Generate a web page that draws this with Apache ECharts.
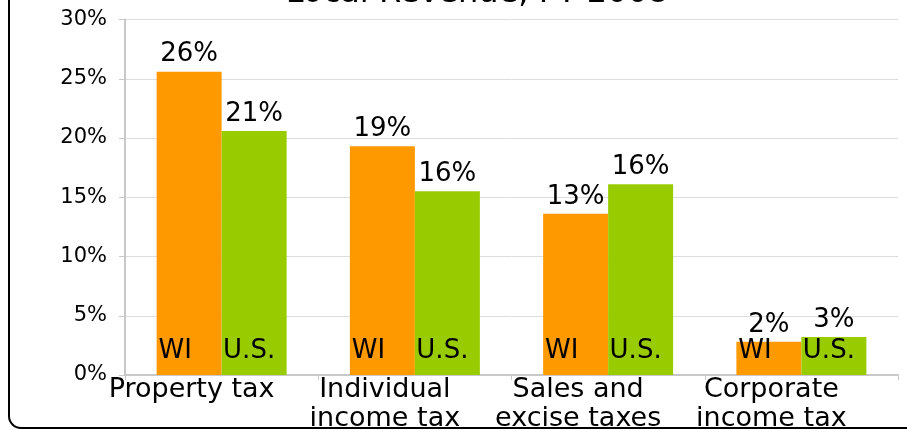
<!DOCTYPE html>
<html>
<head>
<meta charset="utf-8">
<script src="https://cdn.jsdelivr.net/npm/echarts@6/dist/echarts.min.js"></script>
<style>html,body{margin:0;padding:0;background:#fff}#c{width:907px;height:430px}</style>
</head>
<body>
<div id="c"></div>
<script>
var titleText = 'Local Revenue, FY 2008';
var categories = ['Property tax', 'Individual\nincome tax', 'Sales and\nexcise taxes', 'Corporate\nincome tax'];
var seriesNames = ['WI', 'U.S.'];
var wiValues = [25.6, 19.3, 13.6, 2.8];
var usValues = [20.6, 15.5, 16.1, 3.2];
var wiLabels = ['26%', '19%', '13%', '2%'];
var usLabels = ['21%', '16%', '16%', '3%'];
var yTicks = [0, 5, 10, 15, 20, 25, 30];

var FONT = '"DejaVu Sans", Verdana, sans-serif';
var chart = echarts.init(document.getElementById('c'), null, {renderer: 'canvas'});

function makeSeries(name, values, labels, color, nameOffset) {
  return [{
    name: name,
    type: 'bar',
    data: values,
    barWidth: 65,
    barGap: '0%',
    itemStyle: {color: color},
    label: {
      show: true,
      position: 'top',
      distance: 4,
      color: '#000',
      fontFamily: FONT,
      fontSize: 26,
      formatter: function (p) { return labels[p.dataIndex]; }
    },
    z: 2
  }, {
    name: name + ' tag',
    type: 'bar',
    data: values,
    barWidth: 65,
    barGap: '0%',
    itemStyle: {color: 'rgba(0,0,0,0)'},
    label: {
      show: true,
      position: 'insideBottom',
      distance: 11,
      offset: nameOffset,
      color: '#000',
      fontFamily: FONT,
      fontSize: 26,
      formatter: function () { return name; }
    },
    silent: true,
    z: 3
  }];
}

var s1 = makeSeries(seriesNames[0], wiValues, wiLabels, '#FF9900', [-14, 0]);
var s2 = makeSeries(seriesNames[1], usValues, usLabels, '#99CC00', [-5, 0]);

var option = {
  animation: false,
  title: {
    text: titleText,
    left: 472,
    textAlign: 'center',
    top: -27,
    textStyle: {fontFamily: FONT, fontSize: 32, fontWeight: 'normal', color: '#000'}
  },
  graphic: [{
    type: 'rect',
    shape: {x: 9, y: -60, width: 960, height: 488, r: 12},
    style: {fill: 'none', stroke: '#000', lineWidth: 2},
    silent: true,
    z: 0
  }],
  grid: {left: 125, right: 9, top: 19.5, bottom: 55, outerBoundsMode: 'none', containLabel: false},
  xAxis: [{
    type: 'category',
    data: categories,
    axisLine: {show: true, lineStyle: {color: '#c8c8c8', width: 2}},
    axisTick: {show: true, length: 5, lineStyle: {color: '#c8c8c8'}},
    axisLabel: {
      interval: 0,
      color: '#000',
      fontFamily: FONT,
      fontSize: 27,
      lineHeight: 29,
      margin: 0,
      align: 'center',
      padding: [0, 60, 0, 0]
    }
  }, {
    type: 'category',
    data: categories,
    show: false
  }],
  yAxis: {
    type: 'value',
    min: 0,
    max: 30,
    interval: 5,
    axisLine: {show: true, lineStyle: {color: '#c8c8c8', width: 2}},
    axisTick: {show: true, length: 6, lineStyle: {color: '#c8c8c8'}},
    splitLine: {show: true, lineStyle: {color: '#dddddd', width: 1}},
    axisLabel: {
      color: '#000',
      fontFamily: FONT,
      fontSize: 21,
      margin: 18,
      formatter: function (v) { return yTicks.indexOf(v) >= 0 ? v + '%' : ''; }
    }
  },
  series: [s1[0], s2[0],
    Object.assign(s1[1], {xAxisIndex: 1}),
    Object.assign(s2[1], {xAxisIndex: 1})]
};
chart.setOption(option);
</script>
</body>
</html>
